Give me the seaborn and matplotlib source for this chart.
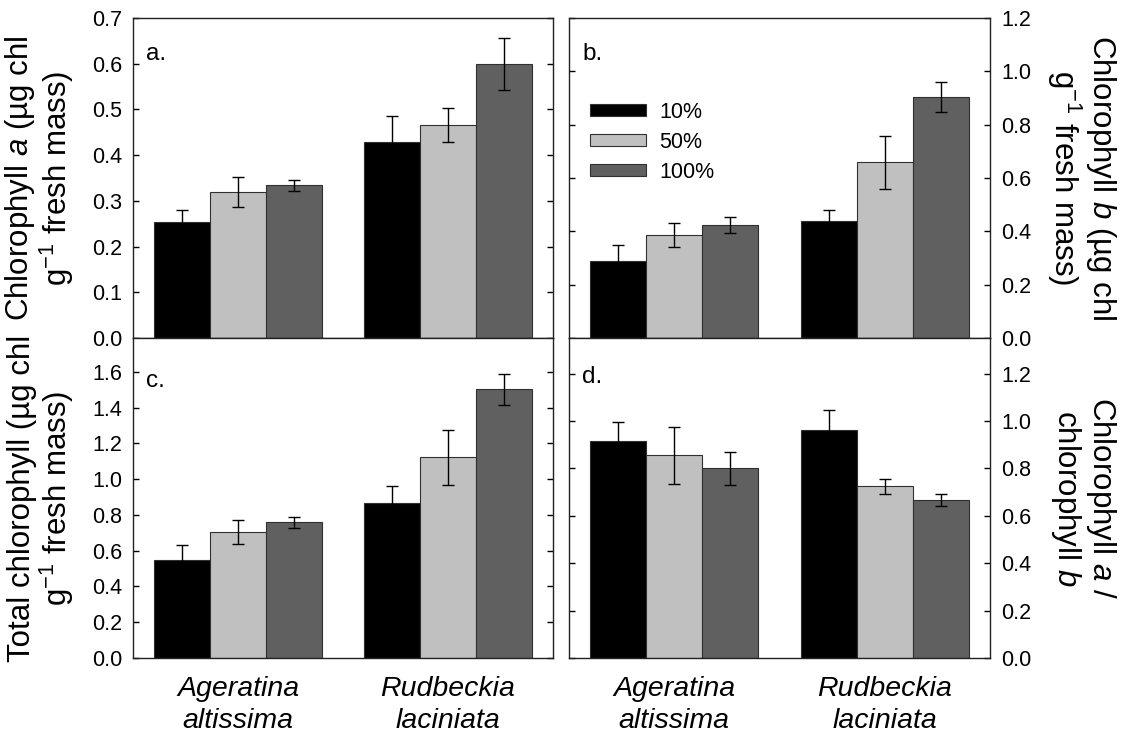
import matplotlib
matplotlib.use("Agg")
import matplotlib.pyplot as plt
import seaborn as sns
import pandas as pd

# species x light level, order: Ageratina 10/50/100, Rudbeckia 10/50/100
species = ["Ageratina\naltissima", "Rudbeckia\nlaciniata"]
light = ["10%", "50%", "100%"]

chl_a = [0.254, 0.319, 0.334, 0.428, 0.466, 0.600]
chl_a_se = [0.026, 0.033, 0.012, 0.058, 0.037, 0.057]

chl_b = [0.290, 0.386, 0.424, 0.440, 0.659, 0.904]
chl_b_se = [0.060, 0.046, 0.031, 0.039, 0.100, 0.055]

chl_tot = [0.547, 0.705, 0.759, 0.869, 1.122, 1.503]
chl_tot_se = [0.085, 0.065, 0.030, 0.095, 0.153, 0.088]

ratio_ab = [0.915, 0.855, 0.800, 0.963, 0.724, 0.667]
ratio_ab_se = [0.079, 0.119, 0.070, 0.083, 0.031, 0.024]

colors = ["#000000", "#c0c0c0", "#606060"]

sns.set_style("white")
plt.rcParams["font.family"] = ["Liberation Sans", "DejaVu Sans"]
plt.rcParams["mathtext.fontset"] = "custom"
plt.rcParams["mathtext.rm"] = "Liberation Sans"
plt.rcParams["mathtext.it"] = "Liberation Sans:italic"
plt.rcParams["axes.edgecolor"] = "#222222"
plt.rcParams["axes.linewidth"] = 1.0
for key in ["text.color", "axes.labelcolor", "xtick.color", "ytick.color"]:
    plt.rcParams[key] = "black"

fig = plt.figure(figsize=(11.21, 7.38), dpi=100)
W, H = 1121, 738


def make_ax(l, r, t, b):
    return fig.add_axes([l / W, 1 - b / H, (r - l) / W, (b - t) / H])


ax_a = make_ax(133, 553, 18, 338)
ax_c = make_ax(133, 553, 338, 658)
ax_b = make_ax(569, 990, 18, 338)
ax_d = make_ax(569, 990, 338, 658)


def panel(ax, vals, errs, ylim, yticks, letter, letter_y, right, bottom):
    df = pd.DataFrame({
        "species": [s for s in species for _ in light],
        "light": light * len(species),
        "value": vals,
    })
    sns.barplot(data=df, x="species", y="value", hue="light",
                order=species, hue_order=light, palette=colors,
                errorbar=None, width=0.8, edgecolor="#303030",
                linewidth=0.8, ax=ax)
    bar_sets = list(ax.containers)
    for hi, cont in enumerate(bar_sets):
        for si, bar in enumerate(cont.patches):
            k = si * len(light) + hi
            ax.errorbar(bar.get_x() + bar.get_width() / 2, bar.get_height(),
                        yerr=errs[k], fmt="none", ecolor="black",
                        elinewidth=1.0, capsize=4, capthick=1.0, zorder=5)
    ax.set_xlim(-0.5, 1.5)
    ax.set_ylim(*ylim)
    ax.set_yticks(yticks)
    ax.set_yticklabels([f"{v:.1f}" for v in yticks])
    ax.set_xlabel("")
    ax.set_ylabel("")
    ax.tick_params(axis="y", direction="in", left=True, right=True,
                   length=4, width=1, labelsize=15.5, pad=8,
                   labelleft=not right, labelright=right)
    ax.tick_params(axis="x", length=0, labelsize=20.5, pad=13,
                   labelbottom=bottom)
    if bottom:
        for t in ax.get_xticklabels():
            t.set_fontstyle("italic")
            t.set_linespacing(1.3)
    for sp in ax.spines.values():
        sp.set_visible(True)
    ax.text(0.032, letter_y, letter, transform=ax.transAxes,
            fontsize=17.5, va="baseline", ha="left")
    if ax.get_legend() is not None:
        ax.get_legend().remove()


panel(ax_a, chl_a, chl_a_se, (0, 0.7), [0, 0.1, 0.2, 0.3, 0.4, 0.5, 0.6, 0.7],
      "a.", 0.869, False, False)
panel(ax_b, chl_b, chl_b_se, (0, 1.2), [0, 0.2, 0.4, 0.6, 0.8, 1.0, 1.2],
      "b.", 0.869, True, False)
panel(ax_c, chl_tot, chl_tot_se, (0, 1.79),
      [0, 0.2, 0.4, 0.6, 0.8, 1.0, 1.2, 1.4, 1.6], "c.", 0.847, False, True)
panel(ax_d, ratio_ab, ratio_ab_se, (0, 1.35),
      [0, 0.2, 0.4, 0.6, 0.8, 1.0, 1.2], "d.", 0.86, True, True)

# legend in panel b
handles = [plt.Rectangle((0, 0), 1, 1, facecolor=c, edgecolor="#303030",
                         linewidth=0.8) for c in colors]
ax_b.legend(handles, light, loc="upper left", bbox_to_anchor=(0.03, 0.765),
            frameon=False, fontsize=15.5, handlelength=2.6, handleheight=0.5,
            handletextpad=0.6, labelspacing=0.42, borderaxespad=0)

ax_a.set_ylabel("Chlorophyll $\\it{a}$ (µg chl\ng$^{-1}$ fresh mass)",
                fontsize=22.5, linespacing=1.05)
ax_a.yaxis.set_label_coords(-0.135, 0.5)
ax_c.set_ylabel("Total chlorophyll (µg chl\ng$^{-1}$ fresh mass)",
                fontsize=22.5, linespacing=1.05)
ax_c.yaxis.set_label_coords(-0.135, 0.5)

ax_b.yaxis.set_label_position("right")
ax_b.set_ylabel("Chlorophyll $\\it{b}$ (µg chl\ng$^{-1}$ fresh mass)",
                fontsize=22.5, linespacing=1.05, rotation=270, va="bottom")
ax_b.yaxis.set_label_coords(1.13, 0.5)
ax_d.yaxis.set_label_position("right")
ax_d.set_ylabel("Chlorophyll $\\it{a}$ /\nchlorophyll $\\it{b}$",
                fontsize=22.5, linespacing=1.05, rotation=270, va="bottom")
ax_d.yaxis.set_label_coords(1.14, 0.5)

fig.savefig("out.png", dpi=100)
